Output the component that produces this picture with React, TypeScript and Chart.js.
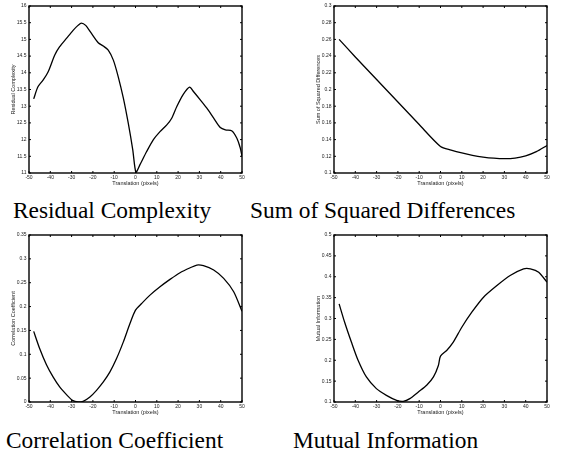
import React, { useEffect, useRef } from "react";
import { Chart, registerables } from "chart.js";

Chart.register(...registerables);

// ---------- data ----------
const xTicks = [-50, -40, -30, -20, -10, 0, 10, 20, 30, 40, 50];

const rcX = [-47.8, -45.8, -43.4, -41, -37.9, -35.6, -32.4, -29.3, -27, -25.4, -23.4, -20.6, -17.5, -15.1, -12.8, -10.4, -8.1, -5.7, -3.4, -1.3, 0.2, 2.1, 5.3, 8.4, 11.5, 14.7, 17, 19.4, 22.5, 25.4, 27.2, 30.4, 33.5, 36.7, 39.8, 42.2, 45.3, 47.6, 49.2, 50];
const rcY = [13.22, 13.58, 13.78, 14.03, 14.53, 14.78, 15.03, 15.27, 15.42, 15.49, 15.42, 15.17, 14.9, 14.8, 14.68, 14.38, 13.88, 13.24, 12.49, 11.7, 11.02, 11.25, 11.65, 12.0, 12.24, 12.44, 12.64, 12.99, 13.36, 13.57, 13.44, 13.19, 12.94, 12.64, 12.36, 12.29, 12.26, 12.04, 11.75, 11.5];
const rcTicks = [11, 11.5, 12, 12.5, 13, 13.5, 14, 14.5, 15, 15.5, 16];

const ssdX = [-47.6, -40, -30, -20, -10, 0, 5, 10, 15, 20, 25, 30, 35, 40, 45, 50];
const ssdY = [0.26, 0.239, 0.212, 0.185, 0.158, 0.1318, 0.1275, 0.124, 0.1212, 0.1191, 0.1177, 0.1171, 0.1178, 0.1205, 0.1255, 0.133];
const ssdTicks = [0.1, 0.12, 0.14, 0.16, 0.18, 0.2, 0.22, 0.24, 0.26, 0.28, 0.3];

const ccX = [-47.8, -45, -41.8, -38.7, -35.6, -32.4, -29.6, -26.9, -24.6, -21.4, -18.3, -15.1, -12, -8.9, -5.7, -2.6, 0, 2.9, 6.8, 11.5, 16.2, 20.9, 25.7, 28.8, 31.9, 36.7, 41.4, 46.1, 50];
const ccY = [0.148, 0.112, 0.078, 0.0525, 0.0315, 0.0154, 0.0035, 0, 0.0014, 0.0105, 0.0245, 0.042, 0.063, 0.091, 0.126, 0.1645, 0.1925, 0.2065, 0.224, 0.2415, 0.257, 0.271, 0.2814, 0.287, 0.2856, 0.2765, 0.259, 0.231, 0.19];
const ccTicks = [0, 0.05, 0.1, 0.15, 0.2, 0.25, 0.3, 0.35];

const miX = [-47.6, -45, -41.8, -38.7, -34.8, -30.1, -25.4, -20.6, -17.5, -14.4, -10.4, -6.5, -3.3, -1, 0, 2.9, 6, 10, 14.7, 20.2, 26.5, 32.7, 39, 42.2, 46.1, 50];
const miY = [0.335, 0.291, 0.243, 0.2, 0.16, 0.132, 0.116, 0.104, 0.1016, 0.108, 0.124, 0.14, 0.16, 0.1876, 0.21, 0.2235, 0.2434, 0.279, 0.315, 0.351, 0.379, 0.403, 0.419, 0.419, 0.411, 0.387];
const miTicks = [0.1, 0.15, 0.2, 0.25, 0.3, 0.35, 0.4, 0.45, 0.5];

const xTitle = "Translation (pixels)";
const yTitles = ["Residual Complexity", "Sum of Squared Differences", "Correlation Coefficient", "Mutual Information"];
const captions = ["Residual Complexity", "Sum of Squared Differences", "Correlation Coefficient", "Mutual Information"];

// ---------- layout ----------
const Y_AXIS_W = 29;
const X_AXIS_H = 18;
const PAD_TOP = 6;
const PAD_RIGHT = 6;

const frameTicks = {
  id: "frameTicks",
  afterDraw(chart: any) {
    const { ctx, chartArea } = chart;
    const { left, right, top, bottom } = chartArea;
    const xs = chart.scales.x;
    const ys = chart.scales.y;
    const L = 2;
    ctx.save();
    ctx.strokeStyle = "#000";
    ctx.lineWidth = 1;
    ctx.beginPath();
    xs.ticks.forEach((t: any) => {
      const px = xs.getPixelForValue(t.value);
      ctx.moveTo(px, bottom);
      ctx.lineTo(px, bottom - L);
      ctx.moveTo(px, top);
      ctx.lineTo(px, top + L);
    });
    ys.ticks.forEach((t: any) => {
      const py = ys.getPixelForValue(t.value);
      ctx.moveTo(left, py);
      ctx.lineTo(left + L, py);
      ctx.moveTo(right, py);
      ctx.lineTo(right - L, py);
    });
    ctx.stroke();
    ctx.lineWidth = 1.4;
    ctx.strokeRect(left, top, right - left, bottom - top);
    ctx.restore();
  },
};

type PanelProps = {
  xs: number[];
  ys: number[];
  yTicks: number[];
  yTitle: string;
  L: number;
  T: number;
  R: number;
  B: number;
};

function Panel({ xs, ys, yTicks, yTitle, L, T, R, B }: PanelProps) {
  const ref = useRef<HTMLCanvasElement>(null);
  const width = R - L + Y_AXIS_W + PAD_RIGHT;
  const height = B - T + PAD_TOP + X_AXIS_H;

  useEffect(() => {
    if (!ref.current) return;
    const tickFont = { family: "'Liberation Sans', Arial, sans-serif", size: 5 };
    const titleFont = { family: "'Liberation Sans', Arial, sans-serif", size: 5.5 };
    const chart = new Chart(ref.current, {
      type: "line",
      data: {
        datasets: [
          {
            data: xs.map((x, i) => ({ x, y: ys[i] })),
            borderColor: "#000",
            borderWidth: 1.3,
            pointRadius: 0,
            tension: 0.25,
            fill: false,
          },
        ],
      },
      options: {
        responsive: false,
        animation: false,
        events: [],
        layout: { padding: { top: PAD_TOP, right: PAD_RIGHT, left: 0, bottom: 0 } },
        plugins: { legend: { display: false }, tooltip: { enabled: false }, title: { display: false } },
        scales: {
          x: {
            type: "linear",
            min: xTicks[0],
            max: xTicks[xTicks.length - 1],
            grid: { display: false, drawTicks: false, tickLength: 0 },
            border: { display: false },
            afterBuildTicks: (s: any) => {
              s.ticks = xTicks.map((v) => ({ value: v }));
            },
            afterFit: (s: any) => {
              s.height = X_AXIS_H;
              s.paddingLeft = 0;
              s.paddingRight = 0;
            },
            ticks: {
              autoSkip: false,
              maxRotation: 0,
              minRotation: 0,
              padding: 2,
              color: "#222",
              font: tickFont,
              callback: (v: any) => String(v),
            },
            title: {
              display: true,
              text: xTitle,
              color: "#222",
              font: titleFont,
              padding: { top: 0, bottom: 4 },
            },
          },
          y: {
            type: "linear",
            min: yTicks[0],
            max: yTicks[yTicks.length - 1],
            grid: { display: false, drawTicks: false, tickLength: 0 },
            border: { display: false },
            afterBuildTicks: (s: any) => {
              s.ticks = yTicks.map((v) => ({ value: v }));
            },
            afterFit: (s: any) => {
              s.width = Y_AXIS_W;
              s.paddingTop = 0;
              s.paddingBottom = 0;
            },
            ticks: {
              autoSkip: false,
              padding: 2.5,
              color: "#222",
              font: tickFont,
              callback: (v: any) => String(v),
            },
            title: {
              display: true,
              text: yTitle,
              color: "#222",
              font: titleFont,
              padding: { top: 10.5, bottom: 0 },
            },
          },
        },
      },
      plugins: [frameTicks],
    } as any);
    return () => chart.destroy();
  }, []);

  return (
    <div style={{ position: "absolute", left: L - Y_AXIS_W, top: T - PAD_TOP, width, height }}>
      <canvas ref={ref} width={width} height={height} style={{ display: "block" }} />
    </div>
  );
}

const captionStyle: React.CSSProperties = {
  position: "absolute",
  fontFamily: "'Liberation Serif', 'Times New Roman', serif",
  fontSize: "23.4px",
  lineHeight: 1,
  whiteSpace: "nowrap",
  color: "#000",
};

export default function App() {
  return (
    <div style={{ position: "absolute", left: 0, top: 0, width: 587, height: 453, background: "#fff", overflow: "hidden" }}>
      <Panel xs={rcX} ys={rcY} yTicks={rcTicks} yTitle={yTitles[0]} L={29} T={6} R={242} B={173} />
      <Panel xs={ssdX} ys={ssdY} yTicks={ssdTicks} yTitle={yTitles[1]} L={334} T={6} R={547} B={173} />
      <Panel xs={ccX} ys={ccY} yTicks={ccTicks} yTitle={yTitles[2]} L={29} T={235} R={242} B={402} />
      <Panel xs={miX} ys={miY} yTicks={miTicks} yTitle={yTitles[3]} L={334} T={235} R={547} B={402} />
      <div style={{ ...captionStyle, left: 13, top: 198.7 }}>{captions[0]}</div>
      <div style={{ ...captionStyle, left: 250, top: 198.7 }}>{captions[1]}</div>
      <div style={{ ...captionStyle, left: 6, top: 428.9 }}>{captions[2]}</div>
      <div style={{ ...captionStyle, left: 293, top: 428.9 }}>{captions[3]}</div>
    </div>
  );
}
